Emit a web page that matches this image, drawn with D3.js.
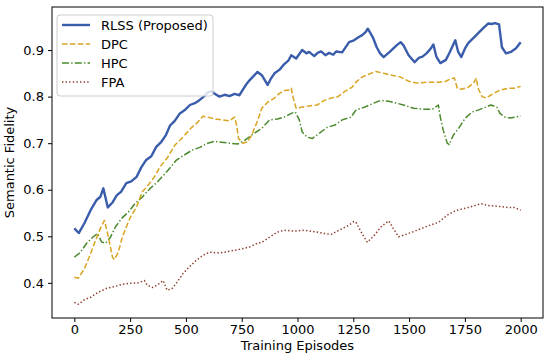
<!DOCTYPE html>
<html>
<head>
<meta charset="utf-8">
<script src="https://cdn.jsdelivr.net/npm/d3@7"></script>
<style>
  body { margin: 0; background: #fff; }
  svg text { font-family: "DejaVu Sans", sans-serif; fill: #000; }
</style>
</head>
<body>
<div id="chart"></div>
<script>
/* Data */
var xTicks = [0, 250, 500, 750, 1000, 1250, 1500, 1750, 2000];
var yTicks = [0.4, 0.5, 0.6, 0.7, 0.8, 0.9];

var rlssEp = [0,20,45,73,100,117,130,150,170,190,210,233,255,278,300,322,345,367,390,411,429,450,473,495,518,540,562,580,598,615,629,650,674,695,718,740,754,770,785,805,821,840,866,880,897,920,941,960,972,994,1021,1040,1052,1075,1090,1106,1125,1142,1160,1173,1200,1231,1253,1275,1290,1306,1315,1337,1355,1370,1386,1413,1444,1462,1475,1498,1525,1543,1560,1578,1595,1609,1622,1640,1665,1680,1707,1720,1734,1750,1765,1801,1832,1854,1870,1885,1903,1916,1934,1956,1979,2000];
var rlssVal = [0.517,0.507,0.528,0.556,0.578,0.585,0.603,0.562,0.572,0.588,0.596,0.614,0.618,0.627,0.648,0.664,0.672,0.692,0.703,0.718,0.738,0.748,0.764,0.771,0.782,0.786,0.793,0.800,0.809,0.812,0.806,0.800,0.804,0.801,0.806,0.803,0.814,0.826,0.835,0.845,0.853,0.846,0.825,0.838,0.850,0.858,0.870,0.878,0.889,0.882,0.900,0.893,0.896,0.887,0.894,0.897,0.889,0.894,0.890,0.897,0.895,0.917,0.921,0.928,0.932,0.939,0.946,0.928,0.906,0.893,0.885,0.896,0.910,0.917,0.910,0.889,0.874,0.883,0.886,0.893,0.902,0.912,0.886,0.872,0.879,0.893,0.921,0.896,0.885,0.903,0.915,0.932,0.947,0.957,0.956,0.958,0.955,0.906,0.893,0.896,0.904,0.917];

var dpcEp = [0,18,46,73,95,117,135,153,171,180,197,215,233,251,278,304,331,358,384,416,451,487,522,553,576,598,629,660,696,718,727,736,754,776,794,821,840,866,897,919,941,963,972,981,994,1017,1052,1088,1120,1151,1178,1209,1244,1262,1289,1329,1351,1386,1422,1462,1498,1534,1578,1631,1665,1685,1703,1716,1734,1765,1792,1801,1809,1827,1845,1872,1907,1943,1970,2000];
var dpcVal = [0.412,0.410,0.431,0.463,0.491,0.517,0.534,0.498,0.455,0.450,0.466,0.498,0.520,0.541,0.562,0.595,0.610,0.627,0.649,0.668,0.696,0.713,0.732,0.745,0.758,0.756,0.752,0.750,0.748,0.756,0.739,0.710,0.700,0.703,0.717,0.748,0.775,0.788,0.797,0.807,0.813,0.814,0.818,0.797,0.775,0.777,0.780,0.782,0.792,0.797,0.799,0.810,0.820,0.831,0.842,0.850,0.854,0.850,0.846,0.842,0.833,0.829,0.831,0.831,0.833,0.838,0.840,0.818,0.816,0.820,0.831,0.840,0.818,0.800,0.797,0.805,0.814,0.818,0.818,0.822];

var hpcEp = [0,28,55,82,104,122,140,162,184,211,242,273,304,340,371,407,420,456,491,527,562,598,629,660,696,732,763,794,821,840,875,910,941,972,990,1008,1021,1043,1066,1097,1133,1168,1200,1240,1262,1298,1342,1373,1409,1444,1475,1520,1565,1605,1631,1640,1653,1671,1680,1698,1725,1752,1783,1809,1841,1867,1894,1907,1930,1952,1974,2000];
var hpcVal = [0.455,0.466,0.485,0.498,0.506,0.488,0.485,0.498,0.520,0.538,0.552,0.571,0.584,0.603,0.616,0.635,0.642,0.663,0.674,0.685,0.691,0.700,0.704,0.702,0.700,0.698,0.706,0.717,0.726,0.732,0.750,0.752,0.756,0.764,0.767,0.750,0.724,0.713,0.710,0.721,0.734,0.739,0.750,0.756,0.771,0.777,0.786,0.792,0.790,0.786,0.782,0.775,0.773,0.773,0.782,0.756,0.728,0.700,0.697,0.717,0.734,0.754,0.767,0.771,0.777,0.782,0.777,0.764,0.756,0.754,0.756,0.758];

var fpaEp = [0,18,46,73,108,144,180,215,251,287,314,327,349,371,398,416,438,460,487,513,545,576,607,651,696,741,785,821,840,875,910,941,985,1030,1075,1120,1151,1186,1231,1253,1262,1290,1313,1340,1378,1409,1425,1453,1480,1520,1556,1595,1632,1670,1707,1765,1823,1855,1885,1943,1970,2000];
var fpaVal = [0.358,0.354,0.364,0.369,0.380,0.388,0.392,0.397,0.399,0.400,0.405,0.395,0.390,0.395,0.405,0.384,0.388,0.401,0.420,0.433,0.448,0.459,0.466,0.464,0.468,0.472,0.477,0.485,0.487,0.498,0.509,0.513,0.511,0.513,0.510,0.506,0.504,0.513,0.524,0.532,0.530,0.505,0.487,0.500,0.522,0.533,0.520,0.499,0.503,0.510,0.517,0.524,0.530,0.545,0.555,0.562,0.570,0.566,0.565,0.562,0.562,0.556];

var seriesNames = ["RLSS (Proposed)", "DPC", "HPC", "FPA"];
var seriesColors = ["#3a5dab", "#d9a41f", "#4a8a2c", "#8e3b2b"];
var seriesDash = [null, "5.5,2.4", "7,2.2,1.4,2.2", "1.4,2.2"];
var seriesWidth = [2.4, 1.5, 1.5, 1.5];

var series = [
    {ep: rlssEp, val: rlssVal},
    {ep: dpcEp, val: dpcVal},
    {ep: hpcEp, val: hpcVal},
    {ep: fpaEp, val: fpaVal}
];

/* Layout */
var width = 550, height = 363;
var plotL = 52, plotR = 543, plotT = 7, plotB = 318;
var fontSize = '13px';

var svg = d3.select('#chart')
    .append('svg')
    .attr('width', width)
    .attr('height', height);

var x = d3.scaleLinear().domain([-100, 2100]).range([plotL, plotR]);
var y = d3.scaleLinear().domain([0.3245, 0.9925]).range([plotB, plotT]);

// lines
var line = d3.line()
    .x(function(d){ return x(d[0]); })
    .y(function(d){ return y(d[1]); });

// draw FPA first so RLSS sits on top
for (var k = series.length - 1; k >= 0; k--) {
    var pts = series[k].ep.map(function(e, i){ return [e, series[k].val[i]]; });
    svg.append('path')
	.datum(pts)
	.attr('d', line)
	.attr('fill', 'none')
	.attr('stroke', seriesColors[k])
	.attr('stroke-width', seriesWidth[k])
	.attr('stroke-dasharray', seriesDash[k])
	.attr('stroke-linejoin', 'round');
}

// axes
var xAxis = svg.append('g')
    .attr('transform', 'translate(0,' + plotB + ')')
    .call(d3.axisBottom(x).tickValues(xTicks).tickSize(4).tickPadding(3).tickFormat(d3.format('d')));
var yAxis = svg.append('g')
    .attr('transform', 'translate(' + plotL + ',0)')
    .call(d3.axisLeft(y).tickValues(yTicks).tickSize(4).tickPadding(4).tickFormat(d3.format('.1f')));

[xAxis, yAxis].forEach(function(a){
    a.select('.domain').remove();
    a.selectAll('line').attr('stroke', '#000').attr('stroke-width', 1);
    a.selectAll('text').style('font-size', fontSize).style('font-family', '"DejaVu Sans", sans-serif').attr('fill', '#000');
});

// frame
svg.append('rect')
    .attr('x', plotL)
    .attr('y', plotT)
    .attr('width', plotR - plotL)
    .attr('height', plotB - plotT)
    .attr('fill', 'none')
    .attr('stroke', '#000')
    .attr('stroke-width', 1);

// axis labels
svg.append('text')
    .attr('x', (plotL + plotR) / 2)
    .attr('y', 350)
    .attr('text-anchor', 'middle')
    .style('font-size', fontSize)
    .text('Training Episodes');

svg.append('text')
    .attr('transform', 'translate(14,' + ((plotT + plotB) / 2) + ') rotate(-90)')
    .attr('text-anchor', 'middle')
    .style('font-size', fontSize)
    .text('Semantic Fidelity');

// legend
var legend = svg.append('g');
legend.append('rect')
    .attr('x', 57).attr('y', 15)
    .attr('width', 156).attr('height', 81)
    .attr('rx', 3)
    .attr('fill', '#fff').attr('fill-opacity', 0.8)
    .attr('stroke', '#cccccc').attr('stroke-width', 1);

seriesNames.forEach(function(name, i){
    var ly = 25 + i * 19;
    legend.append('line')
	.attr('x1', 62).attr('x2', 90)
	.attr('y1', ly).attr('y2', ly)
	.attr('stroke', seriesColors[i])
	.attr('stroke-width', seriesWidth[i])
	.attr('stroke-dasharray', seriesDash[i]);
    legend.append('text')
	.attr('x', 101).attr('y', ly)
	.attr('dominant-baseline', 'central')
	.style('font-size', fontSize)
	.text(name);
});
</script>
</body>
</html>
